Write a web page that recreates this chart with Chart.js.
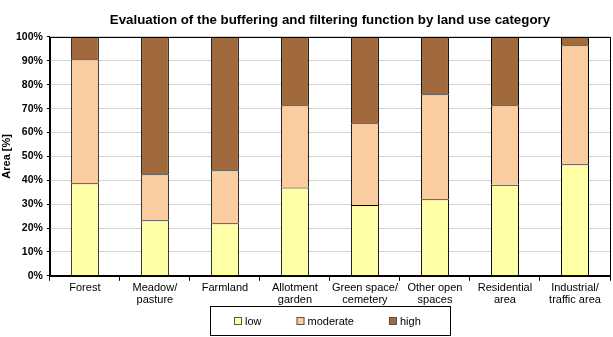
<!DOCTYPE html>
<html>
<head>
<meta charset="utf-8">
<script src="https://cdn.jsdelivr.net/npm/chart.js@4/dist/chart.umd.min.js"></script>
<style>
body { margin: 0; background: #fff; }
</style>
</head>
<body>
<canvas id="myChart" width="613" height="337"></canvas>
<script>
var categories = [['Forest'], ['Meadow/', 'pasture'], ['Farmland'], ['Allotment', 'garden'],
  ['Green space/', 'cemetery'], ['Other open', 'spaces'], ['Residential', 'area'], ['Industrial/', 'traffic area']];
var low = [38.8, 23.3, 22.0, 37.0, 29.6, 32.1, 38.1, 46.7];
var moderate = [51.9, 19.2, 22.2, 34.4, 34.3, 43.9, 33.3, 49.8];
var high = [9.3, 57.5, 55.8, 28.6, 36.1, 24.0, 28.6, 3.5];
var yTicks = [0, 10, 20, 30, 40, 50, 60, 70, 80, 90, 100];

var font = "'Liberation Sans', Arial, sans-serif";

// frame around the plot area + a boxed legend at the bottom (excel look)
var framePlugin = {
  id: 'frame',
  afterDraw: function(chart) {
    var ctx = chart.ctx;
    var a = chart.chartArea;
    ctx.save();
    ctx.strokeStyle = '#000';
    ctx.lineWidth = 1;
    ctx.strokeRect(Math.round(a.left) + 0.5, Math.round(a.top) + 0.5,
      Math.round(a.right - a.left), Math.round(a.bottom - a.top));

    // legend
    ctx.font = '11px ' + font;
    ctx.textBaseline = 'middle';
    var sets = chart.data.datasets;
    var gap = 35, box = 8, total = 0;
    var widths = sets.map(function(d) { return box + 3 + ctx.measureText(d.label).width; });
    widths.forEach(function(w) { total += w; });
    total += gap * (sets.length - 1);
    var cx = (a.left + a.right) / 2;
    var bx1 = Math.round(cx - 120) + 0.5, bx2 = Math.round(cx + 120) + 0.5;
    var by1 = chart.height - 30.5, by2 = chart.height - 1.5;
    ctx.strokeRect(bx1, by1, bx2 - bx1, by2 - by1);
    var x = Math.round(cx - total / 2 - 3);
    var y = Math.round((by1 + by2) / 2);
    sets.forEach(function(d, i) {
      ctx.fillStyle = d.backgroundColor;
      ctx.fillRect(x, y - 4, box, box);
      ctx.strokeStyle = '#555';
      ctx.strokeRect(x + 0.5, y - 3.5, box - 1, box - 1);
      ctx.fillStyle = '#000';
      ctx.fillText(d.label, x + box + 3, y + 1);
      x += widths[i] + gap;
    });
    ctx.restore();
  }
};

var ctx = document.getElementById('myChart').getContext('2d');
var chart = new Chart(ctx, {
  type: 'bar',
  data: {
    labels: categories,
    datasets: [
      { label: 'low', data: low, backgroundColor: '#FFFFA6', borderColor: '#000', borderWidth: 1 },
      { label: 'moderate', data: moderate, backgroundColor: '#FACDA0', borderColor: '#000', borderWidth: 1 },
      { label: 'high', data: high, backgroundColor: '#A06A3C', borderColor: '#000', borderWidth: 1 }
    ]
  },
  options: {
    responsive: false,
    animation: false,
    layout: { padding: { left: 1, right: 3, top: 12, bottom: 30 } },
    datasets: { bar: { categoryPercentage: 1, barPercentage: 0.4 } },
    plugins: {
      title: {
        display: true,
        fullSize: false,
        text: 'Evaluation of the buffering and filtering function by land use category',
        color: '#000',
        font: { family: font, size: 13.3, weight: 'bold' },
        padding: { top: 0, bottom: 9 }
      },
      legend: { display: false },
      tooltip: { enabled: false }
    },
    scales: {
      x: {
        stacked: true,
        border: { color: '#000' },
        grid: { offset: true, drawOnChartArea: false, color: '#000', tickLength: 5 },
        ticks: { color: '#000', font: { family: font, size: 11, lineHeight: 1.1 }, padding: 1, maxRotation: 0, autoSkip: false }
      },
      y: {
        stacked: true,
        min: 0,
        max: 100,
        afterBuildTicks: function(axis) {
          axis.ticks = yTicks.map(function(v) { return { value: v }; });
        },
        border: { color: '#000' },
        grid: { color: '#D4D4D4', tickColor: '#000', tickLength: 3 },
        ticks: {
          color: '#000',
          padding: 4,
          font: { family: font, size: 10.5, weight: 'bold' },
          callback: function(v) { return v + '%'; }
        },
        title: {
          display: true,
          text: 'Area [%]',
          color: '#000',
          padding: 0,
          font: { family: font, size: 11, weight: 'bold', lineHeight: 1 }
        }
      }
    }
  },
  plugins: [framePlugin]
});
</script>
</body>
</html>
